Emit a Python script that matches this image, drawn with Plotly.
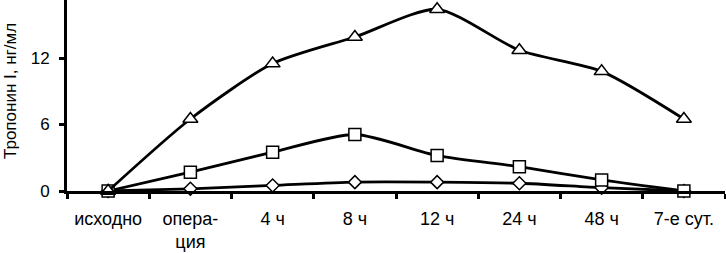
import plotly.graph_objects as go

categories = ["исходно", "опера-<br>ция", "4 ч", "8 ч", "12 ч", "24 ч", "48 ч", "7-е сут."]
series_triangle = [0, 6.5, 11.5, 13.9, 16.4, 12.7, 10.8, 6.5]
series_square = [0, 1.7, 3.5, 5.1, 3.2, 2.2, 1.0, 0]
series_diamond = [0, 0.2, 0.5, 0.8, 0.8, 0.7, 0.3, 0]
y_ticks = [0, 6, 12]
y_title = "Тропонин I, нг/мл"

fig = go.Figure()

def add(vals, symbol, size):
    fig.add_trace(go.Scatter(
        x=categories, y=vals, mode="lines+markers",
        line=dict(color="black", width=2.8, shape="spline", smoothing=0.7),
        marker=dict(symbol=symbol, size=size, color="white",
                    line=dict(color="black", width=1.5)),
        cliponaxis=False, showlegend=False,
    ))

add(series_diamond, "diamond", 10)
add(series_square, "square", 12)
add(series_triangle, "triangle-up", 13)

fig.update_layout(
    width=726, height=253,
    margin=dict(l=67, r=1, t=0, b=62),
    paper_bgcolor="white", plot_bgcolor="white",
    font=dict(family="Liberation Sans, Arial, sans-serif", color="black"),
    xaxis=dict(
        type="category", range=[-0.5, 7.5],
        showline=True, linecolor="black", linewidth=3,
        ticks="outside", tickson="boundaries", ticklen=5, tickwidth=3, tickcolor="black",
        showgrid=False, zeroline=False,
        tickfont=dict(size=18), ticklabelstandoff=9,
    ),
    yaxis=dict(
        range=[0, 17.24], tickvals=y_ticks,
        showline=True, linecolor="black", linewidth=3,
        ticks="outside", ticklen=5, tickwidth=3, tickcolor="black",
        showgrid=False, zeroline=False,
        tickfont=dict(size=17), ticklabelstandoff=6,
    ),
    annotations=[dict(
        text=y_title, textangle=-90, showarrow=False,
        xref="paper", yref="paper", x=(10 - 67) / 658, y=(191 - 91) / 191,
        xanchor="center", yanchor="middle", font=dict(size=17),
    )],
)

fig.write_html("out.html", config={"displayModeBar": False},
               post_script="document.body.style.margin='0';")
